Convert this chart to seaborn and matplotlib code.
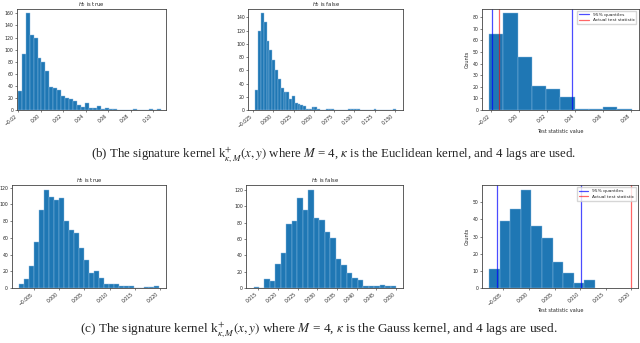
import numpy as np
import pandas as pd
import matplotlib
matplotlib.use("Agg")
import matplotlib.pyplot as plt
from matplotlib.ticker import MultipleLocator
import seaborn as sns

# (b) Euclidean kernel, H0 true
tl_counts = [31, 93, 160, 125, 120, 86, 79, 64, 38, 37, 33, 23, 20, 19, 15, 8, 5, 12,
             4, 3, 7, 1, 4, 2, 1, 0, 0, 0, 0, 1, 0, 0, 0, 1, 0, 1]
tl_range = (-0.0205, 0.1068)

# (b) Euclidean kernel, H0 false
tm_counts = [30, 120, 146, 133, 104, 90, 76, 60, 47, 34, 28, 27, 17, 21, 10, 9, 8, 6,
             2, 2, 4, 4, 2, 0, 0, 1, 1, 2, 0, 0, 0, 0, 0, 2, 1, 1, 1, 0, 0, 0,
             0, 0, 1, 0, 0, 0, 0, 0, 0, 1]
tm_range = (-0.0223, 0.1517)

# (b) permutation test
tr_counts = [65, 83, 46, 21, 18, 11, 1, 1, 3, 1]
tr_range = (-0.0217, 0.0803)
tr_quantiles = [-0.0198, 0.0380]
tr_stat = -0.0145

# (c) Gauss kernel, H0 true
bl_counts = [5, 11, 26, 55, 93, 117, 109, 105, 107, 80, 69, 66, 48, 33, 18, 21, 12, 5,
             5, 5, 2, 2, 3, 0, 0, 1, 1, 2]
bl_range = (-0.0081, 0.0199)

# (c) Gauss kernel, H0 false
bm_counts = [1, 0, 11, 9, 30, 43, 78, 82, 110, 96, 120, 86, 83, 69, 61, 36, 28, 18,
             12, 10, 3, 3, 2, 4, 2, 2]
bm_range = (0.01374, 0.0500)

# (c) permutation test
br_counts = [11, 39, 46, 57, 36, 29, 15, 9, 3, 5]
br_range = (-0.0078, 0.0129)
br_quantiles = [-0.0063, 0.0101]
br_stat = 0.0199

caption_b = (r"(b) The signature kernel k$^{+}_{\kappa,M}(x, y)$ where $M$ = 4, "
             r"$\kappa$ is the Euclidean kernel, and 4 lags are used.")
caption_c = (r"(c) The signature kernel k$^{+}_{\kappa,M}(x, y)$ where $M$ = 4, "
             r"$\kappa$ is the Gauss kernel, and 4 lags are used.")

sns.set_style("ticks")
plt.rcParams.update({
    "font.family": ["DejaVu Sans"],
    "mathtext.fontset": "dejavusans",
    "axes.linewidth": 0.6,
    "axes.edgecolor": "#444444",
    "xtick.major.size": 1.5,
    "ytick.major.size": 1.5,
    "xtick.major.width": 0.4,
    "ytick.major.width": 0.4,
    "xtick.major.pad": 1,
    "ytick.major.pad": 1,
    "xtick.labelsize": 3.3,
    "ytick.labelsize": 3.3,
    "xtick.color": "#222222",
    "ytick.color": "#222222",
})

BAR = "#1f77b4"
EDGE = "#8dbbe2"


def draw_hist(ax, counts, rng, xstep, ystep, title=None):
    edges = np.linspace(rng[0], rng[1], len(counts) + 1)
    df = pd.DataFrame({"value": (edges[:-1] + edges[1:]) / 2, "count": counts})
    sns.histplot(data=df, x="value", weights="count", bins=list(edges), ax=ax,
                 color=BAR, alpha=1, edgecolor=EDGE, linewidth=0.3)
    ax.xaxis.set_major_locator(MultipleLocator(xstep))
    ax.yaxis.set_major_locator(MultipleLocator(ystep))
    ax.set_ylabel("")
    ax.set_xlabel("")
    for lab in ax.get_xticklabels():
        lab.set_rotation(40)
        lab.set_ha("right")
    if title:
        ax.set_title(title, fontsize=3.8, pad=1.5)


def draw_test(ax, counts, rng, quantiles, stat, xstep, ystep):
    draw_hist(ax, counts, rng, xstep, ystep)
    for i, q in enumerate(quantiles):
        ax.axvline(q, color="blue", alpha=0.7, linewidth=0.9,
                   label="95% quantiles" if i == 0 else None)
    ax.axvline(stat, color="red", alpha=0.6, linewidth=0.9, label="Actual test statistic")
    ax.set_ylabel("Counts", fontsize=3.6, labelpad=2)
    ax.set_xlabel("Test statistic value", fontsize=3.6, labelpad=1.5)
    ax.legend(loc="upper right", fontsize=3.2, frameon=True, handlelength=2.2,
              borderpad=0.4, labelspacing=0.3, framealpha=0.8, edgecolor="#cccccc",
              fancybox=False)


fig = plt.figure(figsize=(6.4, 3.43), dpi=100)

TOP_B, TOP_H = 0.679, 0.296
BOT_B, BOT_H = 0.160, 0.300

ax_tl = fig.add_axes([0.026, TOP_B, 0.234, TOP_H])
draw_hist(ax_tl, tl_counts, tl_range, 0.02, 20, r"$H_0$ is true")
ax_tl.set_xlim(-0.0214, 0.1119)

ax_tm = fig.add_axes([0.388, TOP_B, 0.242, TOP_H])
draw_hist(ax_tm, tm_counts, tm_range, 0.025, 20, r"$H_0$ is false")

ax_tr = fig.add_axes([0.753, TOP_B, 0.245, TOP_H])
draw_test(ax_tr, tr_counts, tr_range, tr_quantiles, tr_stat, 0.02, 10)

ax_bl = fig.add_axes([0.018, BOT_B, 0.242, BOT_H])
draw_hist(ax_bl, bl_counts, bl_range, 0.005, 20, r"$H_0$ is true")

ax_bm = fig.add_axes([0.385, BOT_B, 0.245, BOT_H])
draw_hist(ax_bm, bm_counts, bm_range, 0.005, 20, r"$H_0$ is false")

ax_br = fig.add_axes([0.753, BOT_B, 0.244, BOT_H])
draw_test(ax_br, br_counts, br_range, br_quantiles, br_stat, 0.005, 10)

cap_kw = dict(ha="center", va="center", family=["Liberation Serif", "DejaVu Serif"],
              math_fontfamily="stix")
fig.text(0.522, 0.548, caption_b, fontsize=9.3, **cap_kw)
fig.text(0.498, 0.038, caption_c, fontsize=9.5, **cap_kw)

fig.savefig("out.png", dpi=100)
